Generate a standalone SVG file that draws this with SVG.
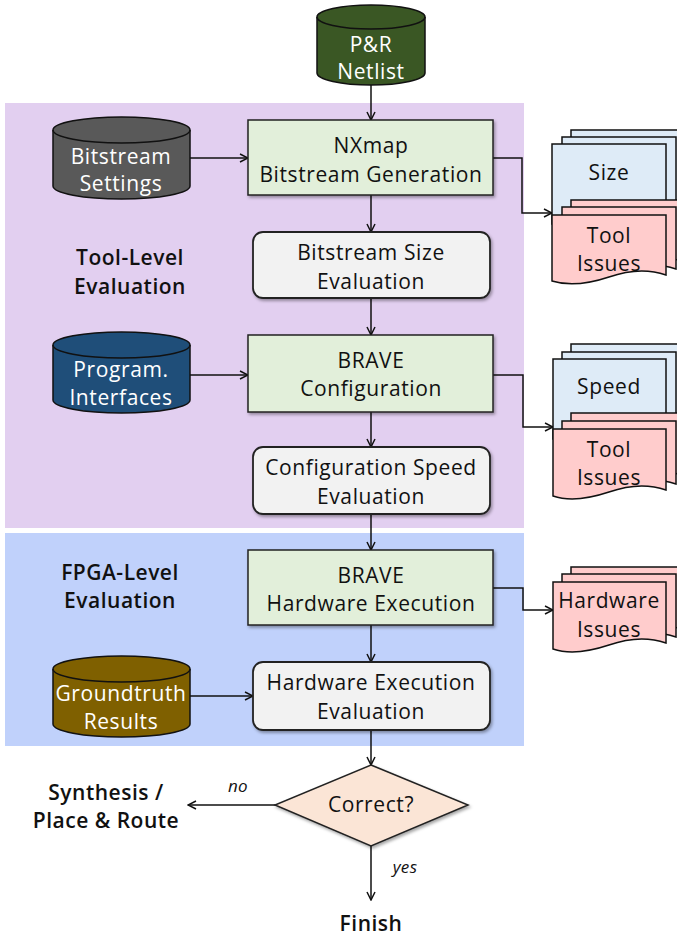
<svg xmlns="http://www.w3.org/2000/svg" width="677" height="936" viewBox="0 0 677 936">
<defs>
<style>
text{font-family:"Open Sans","DejaVu Sans",sans-serif;font-size:21px;letter-spacing:0.6px;text-anchor:middle;fill:#111;}
.w{fill:#fff;}
.t{font-weight:600;font-size:21px;letter-spacing:0.5px;}
.i{font-style:italic;font-size:17px;letter-spacing:0.3px;}
.box{fill:#e2efda;stroke:#222;stroke-width:1.5;}
.ev{fill:#f2f2f2;stroke:#222;stroke-width:1.8;}
.cyl{stroke:#111;stroke-width:1.5;}
.bl{fill:#deebf7;stroke:#111;stroke-width:1.5;}
.pk{fill:#ffcccc;stroke:#111;stroke-width:1.5;}
.ln{fill:none;stroke:#111;stroke-width:1.5;}
</style>
<marker id="ah" viewBox="0 0 10 10" refX="9" refY="5" markerWidth="10" markerHeight="10" markerUnits="userSpaceOnUse" orient="auto">
<path d="M1,1 L9,5 L1,9" fill="none" stroke="#111" stroke-width="1.5"/>
</marker>
<filter id="sh" x="-10%" y="-10%" width="125%" height="130%">
<feDropShadow dx="1.5" dy="2" stdDeviation="1.5" flood-color="#000" flood-opacity="0.35"/>
</filter>
</defs>

<g id="tool-level-region">
<rect x="5" y="103" width="519" height="425" fill="#e2cff0"/>
<text class="t" x="130" y="265">Tool-Level</text>
<text class="t" x="130" y="294">Evaluation</text>
</g>
<g id="fpga-level-region">
<rect x="5" y="533" width="519" height="213" fill="#c0d1fb"/>
<text class="t" x="120" y="580">FPGA-Level</text>
<text class="t" x="120" y="608">Evaluation</text>
</g>

<g id="connectors">
<path class="ln" marker-end="url(#ah)" d="M371,85 V120"/>
<path class="ln" marker-end="url(#ah)" d="M190,158 H248"/>
<path class="ln" marker-end="url(#ah)" d="M371,195 V232"/>
<path class="ln" marker-end="url(#ah)" d="M493,158 H522 V213 H552"/>
<path class="ln" marker-end="url(#ah)" d="M371,298 V335"/>
<path class="ln" marker-end="url(#ah)" d="M190,375 H248"/>
<path class="ln" marker-end="url(#ah)" d="M371,412 V447"/>
<path class="ln" marker-end="url(#ah)" d="M493,375 H523 V427 H553"/>
<path class="ln" marker-end="url(#ah)" d="M371,514 V550"/>
<path class="ln" marker-end="url(#ah)" d="M493,588 H523 V610 H553"/>
<path class="ln" marker-end="url(#ah)" d="M371,625 V662"/>
<path class="ln" marker-end="url(#ah)" d="M190,696 H253"/>
<path class="ln" marker-end="url(#ah)" d="M371,730 V765"/>
<path class="ln" marker-end="url(#ah)" d="M275,805 H188"/>
<path class="ln" marker-end="url(#ah)" d="M371,846 V900"/>
<text class="i" x="238" y="792">no</text>
<text class="i" x="405" y="873">yes</text>
</g>

<g id="pr-netlist">
<path class="cyl" fill="#3a5724" d="M317,17 V73 A54,12 0 0 0 425,73 V17 A54,12 0 0 0 317,17 Z"/>
<path class="cyl" fill="none" d="M317,17 A54,12 0 0 0 425,17"/>
<text class="w" x="371" y="52">P&amp;R</text>
<text class="w" x="371" y="79">Netlist</text>
</g>

<g id="bitstream-settings">
<path class="cyl" fill="#595959" d="M53,130 V186 A68.5,13 0 0 0 190,186 V130 A68.5,13 0 0 0 53,130 Z"/>
<path class="cyl" fill="none" d="M53,130 A68.5,13 0 0 0 190,130"/>
<text class="w" x="121" y="164">Bitstream</text>
<text class="w" x="121" y="191">Settings</text>
</g>

<g id="nxmap">
<rect class="box" x="248" y="120" width="245" height="75" filter="url(#sh)"/>
<text x="371" y="153">NXmap</text>
<text x="371" y="182">Bitstream Generation</text>
</g>

<g id="bitstream-size-eval">
<rect class="ev" x="253" y="232" width="237" height="66" rx="10" filter="url(#sh)"/>
<text x="371" y="260">Bitstream Size</text>
<text x="371" y="289">Evaluation</text>
</g>

<g id="size-stack">
<rect class="bl" x="571" y="130" width="114" height="80"/>
<rect class="bl" x="562" y="137" width="114" height="80"/>
<rect class="bl" x="552" y="144" width="114" height="80"/>
<text x="609" y="180">Size</text>
<path class="pk" d="M571,200 H685 V262 C665,255 645,258 628,264 C610,270 590,274 571,268 Z"/>
<path class="pk" d="M562,207 H676 V269 C656,262 636,265 619,271 C601,277 581,281 562,275 Z"/>
<path class="pk" d="M552,215 H666 V275 C646,268 626,271 609,277 C591,283 571,287 552,281 Z"/>
<text x="609" y="243">Tool</text>
<text x="609" y="271">Issues</text>
</g>

<g id="program-interfaces">
<path class="cyl" fill="#1f4e79" d="M53,345 V400 A68.5,13 0 0 0 190,400 V345 A68.5,13 0 0 0 53,345 Z"/>
<path class="cyl" fill="none" d="M53,345 A68.5,13 0 0 0 190,345"/>
<text class="w" x="121" y="377">Program.</text>
<text class="w" x="121" y="405">Interfaces</text>
</g>

<g id="brave-config">
<rect class="box" x="248" y="335" width="245" height="77" filter="url(#sh)"/>
<text x="371" y="368">BRAVE</text>
<text x="371" y="396">Configuration</text>
</g>

<g id="config-speed-eval">
<rect class="ev" x="253" y="447" width="237" height="67" rx="10" filter="url(#sh)"/>
<text x="371" y="475">Configuration Speed</text>
<text x="371" y="504">Evaluation</text>
</g>

<g id="speed-stack">
<rect class="bl" x="571" y="344" width="114" height="80"/>
<rect class="bl" x="562" y="352" width="114" height="80"/>
<rect class="bl" x="553" y="359" width="113" height="80"/>
<text x="609" y="394">Speed</text>
<path class="pk" d="M571,413 H685 V476 C665,469 645,472 628,478 C610,484 590,488 571,482 Z"/>
<path class="pk" d="M562,421 H676 V484 C656,477 636,480 619,486 C601,492 581,496 562,490 Z"/>
<path class="pk" d="M553,429 H666 V490 C646,483 626,486 609,492 C591,498 571,502 553,496 Z"/>
<text x="609" y="457">Tool</text>
<text x="609" y="485">Issues</text>
</g>

<g id="brave-hw-exec">
<rect class="box" x="248" y="550" width="245" height="75" filter="url(#sh)"/>
<text x="371" y="583">BRAVE</text>
<text x="371" y="611">Hardware Execution</text>
</g>

<g id="hw-issues-stack">
<path class="pk" d="M571,567 H685 V630 C665,623 645,626 628,632 C610,638 590,642 571,636 Z"/>
<path class="pk" d="M562,574 H676 V637 C656,630 636,633 619,639 C601,645 581,649 562,643 Z"/>
<path class="pk" d="M553,582 H666 V643 C646,636 626,639 609,645 C591,651 571,655 553,649 Z"/>
<text x="609" y="608">Hardware</text>
<text x="609" y="637">Issues</text>
</g>

<g id="groundtruth">
<path class="cyl" fill="#7f6000" d="M53,669 V724 A68.5,13 0 0 0 190,724 V669 A68.5,13 0 0 0 53,669 Z"/>
<path class="cyl" fill="none" d="M53,669 A68.5,13 0 0 0 190,669"/>
<text class="w" x="121" y="701">Groundtruth</text>
<text class="w" x="121" y="729">Results</text>
</g>

<g id="hw-exec-eval">
<rect class="ev" x="253" y="662" width="237" height="68" rx="10" filter="url(#sh)"/>
<text x="371" y="690">Hardware Execution</text>
<text x="371" y="719">Evaluation</text>
</g>

<g id="correct">
<path d="M371,765 L468,805 L371,846 L275,805 Z" fill="#fbe5d6" stroke="#222" stroke-width="1.5" filter="url(#sh)"/>
<text x="371" y="812">Correct?</text>
</g>

<g id="synthesis">
<text class="t" x="106" y="800">Synthesis /</text>
<text class="t" x="106" y="828">Place &amp; Route</text>
</g>

<g id="finish">
<text class="t" x="371" y="931">Finish</text>
</g>
</svg>
